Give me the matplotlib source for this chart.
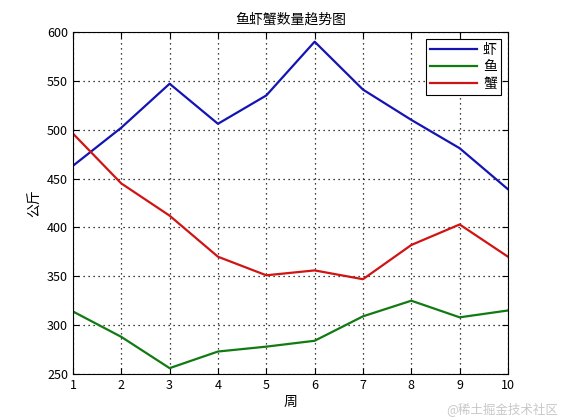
import matplotlib
matplotlib.use("Agg")
import matplotlib.pyplot as plt

plt.rcParams['font.family'] = ['Noto Sans CJK SC', 'DejaVu Sans']

weeks = [1, 2, 3, 4, 5, 6, 7, 8, 9, 10]
shrimp = [463, 502, 547, 506, 535, 590, 541, 510, 481, 439]
fish = [314, 288, 256, 273, 278, 284, 309, 325, 308, 315]
crab = [496, 445, 412, 370, 351, 356, 347, 382, 403, 370]
xtick_labels = ['1', '2', '3', '4', '5', '6', '7', '8', '9', '10']

fig = plt.figure(figsize=(5.61, 4.2), dpi=100)
ax = fig.add_axes([0.130, 0.1095, 0.7755, 0.8145])

ax.plot(weeks, shrimp, color='#1414b4', lw=1.6, label='虾')
ax.plot(weeks, fish, color='#127a12', lw=1.6, label='鱼')
ax.plot(weeks, crab, color='#d01414', lw=1.6, label='蟹')

ax.set_xlim(1, 10)
ax.set_ylim(250, 600)
ax.set_xticks(weeks)
ax.set_xticklabels(xtick_labels)
ax.set_yticks(range(250, 601, 50))
ax.tick_params(direction='in', top=True, right=True, labelsize=9, length=4)
ax.grid(True, linestyle=(0, (1, 3)), color='black', linewidth=0.9)

ax.set_title('鱼虾蟹数量趋势图', fontsize=10)
ax.set_xlabel('周', fontsize=10, labelpad=2)
ax.set_ylabel('公斤', fontsize=10)

leg = ax.legend(loc='upper right', fontsize=10, fancybox=False, framealpha=1,
                edgecolor='black', handlelength=3.4, handletextpad=0.4,
                borderpad=0.3, labelspacing=0.2)
leg.get_frame().set_linewidth(0.8)

fig.text(0.995, 0.01, '@稀土掘金技术社区', ha='right', va='bottom',
         fontsize=9, color='#c8c8c8')

fig.savefig('out.png', dpi=100)
